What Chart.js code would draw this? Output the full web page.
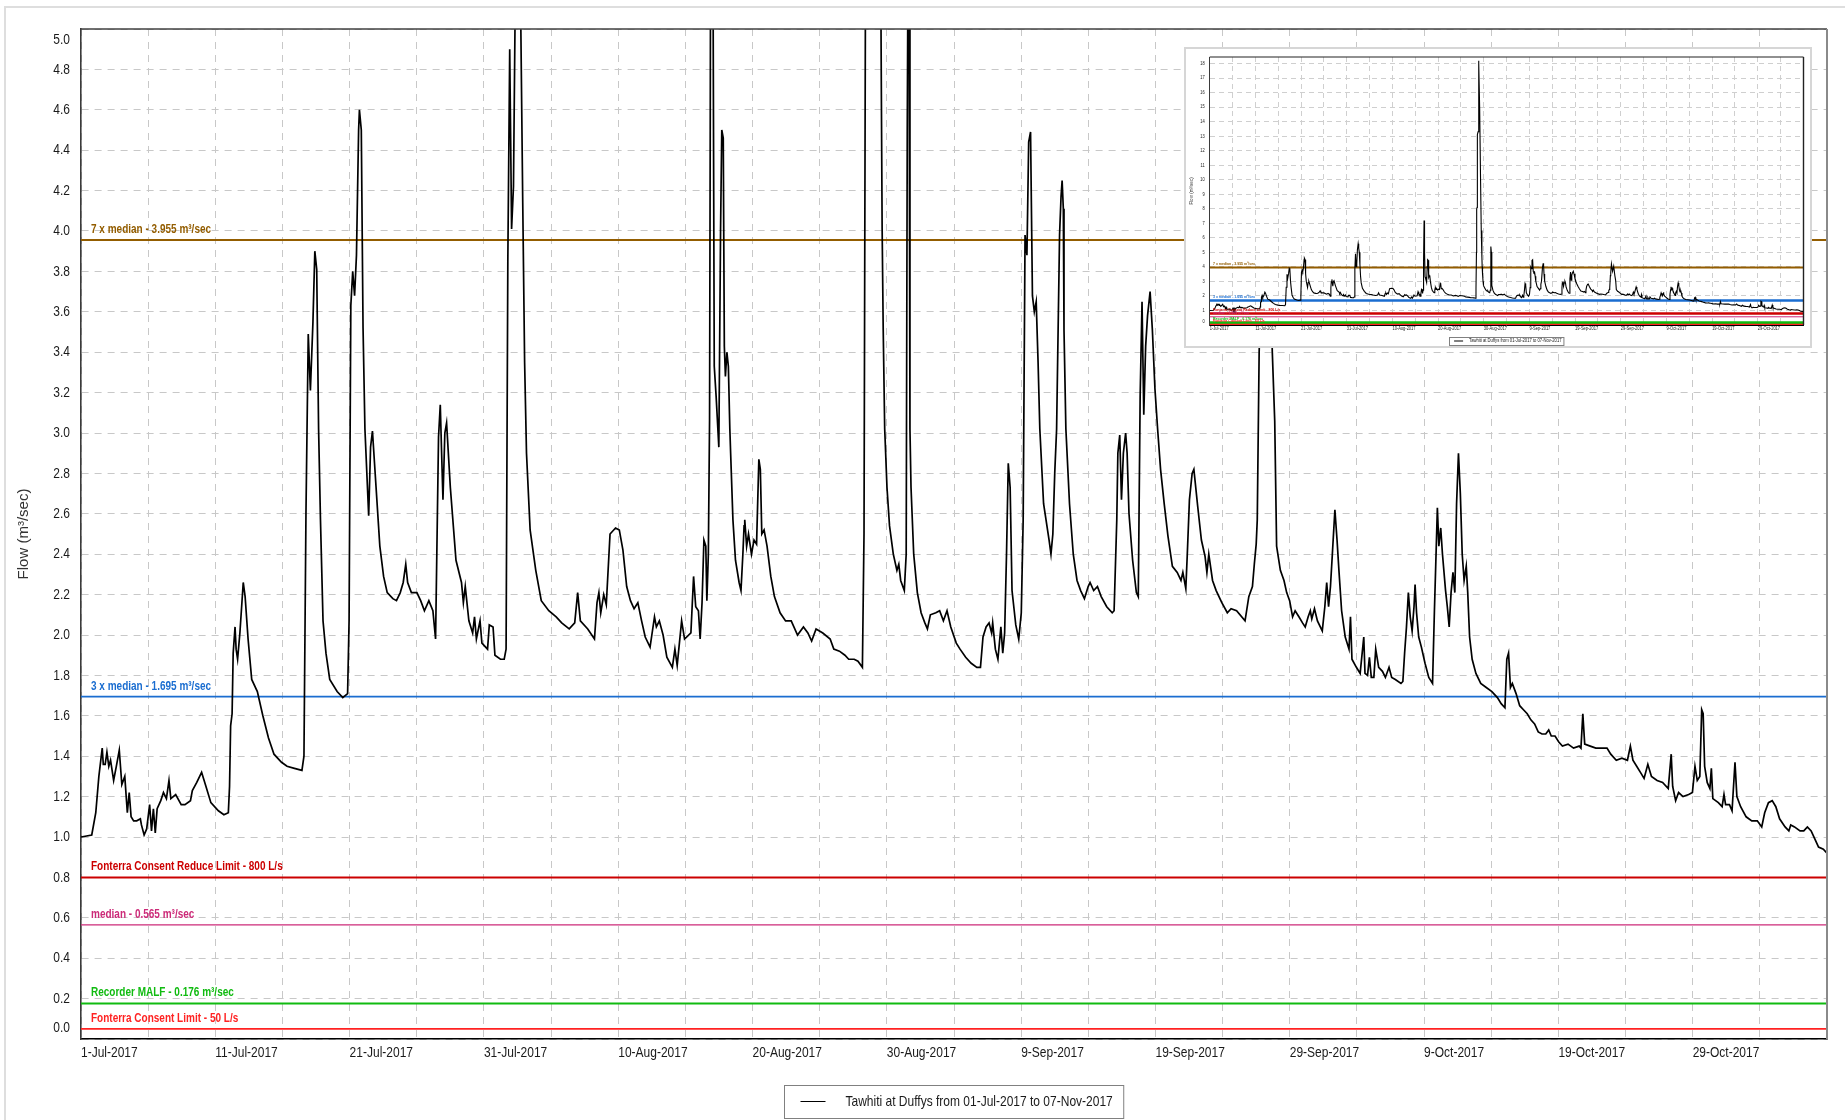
<!DOCTYPE html>
<html>
<head>
<meta charset="utf-8">
<script src="https://cdn.jsdelivr.net/npm/chart.js@4.4.1/dist/chart.umd.min.js"></script>
<style>
  html, body { margin: 0; padding: 0; background: #fff; }
  #wrap { position: relative; width: 1845px; height: 1120px; overflow: hidden; }
  #main { position: absolute; left: 0; top: 0; }
  #insetBox { position: absolute; left: 1184px; top: 47px; width: 624px; height: 297px;
              border: 2px solid #d6d6d6; background: #fff; }
  #inset { display: block; }
</style>
</head>
<body>
<div id="wrap">
  <canvas id="main" width="1845" height="1120"></canvas>
  <div id="insetBox"><canvas id="inset" width="624" height="297"></canvas></div>
</div>
<script>
// axis: days since 1-Jul-2017, ticks every 5 days, labels every 10
const axisDays = 130;
const dateLabels = ['1-Jul-2017', '11-Jul-2017', '21-Jul-2017', '31-Jul-2017', '10-Aug-2017',
  '20-Aug-2017', '30-Aug-2017', '9-Sep-2017', '19-Sep-2017', '29-Sep-2017',
  '9-Oct-2017', '19-Oct-2017', '29-Oct-2017'];
const seriesLabel = 'Tawhiti at Duffys from 01-Jul-2017 to 07-Nov-2017';

// reference lines
const refValues = [3.955, 1.695, 0.8, 0.565, 0.176, 0.05];
const refLabels = ['7 x median - 3.955 m³/sec', '3 x median - 1.695 m³/sec',
  'Fonterra Consent Reduce Limit - 800 L/s', 'median - 0.565 m³/sec',
  'Recorder MALF - 0.176 m³/sec', 'Fonterra Consent Limit - 50 L/s'];
const refColors = ['#935d00', '#1a6dd0', '#cc0000', '#cc2a78', '#10bb10', '#ff2222'];

// flow readings [days since 1-Jul, m3/sec]
const flowJul = [[0, 1.00], [0.8, 1.01], [1.1, 1.12], [1.33, 1.30], [1.58, 1.44], [1.66, 1.36], [1.8, 1.36],
  [1.93, 1.42], [2.07, 1.35], [2.2, 1.38], [2.43, 1.28], [2.63, 1.35], [2.85, 1.43], [3.04, 1.26], [3.26, 1.30],
  [3.45, 1.12], [3.59, 1.22], [3.73, 1.10], [3.92, 1.08], [4.15, 1.08], [4.42, 1.09], [4.5, 1.06], [4.7, 1.01],
  [4.89, 1.04], [5.11, 1.16], [5.25, 1.03], [5.39, 1.14], [5.53, 1.02], [5.67, 1.14], [5.94, 1.18], [6.14, 1.22],
  [6.36, 1.19], [6.55, 1.28], [6.69, 1.19], [7.05, 1.21], [7.46, 1.16], [7.74, 1.16], [8.15, 1.18], [8.29, 1.23],
  [8.62, 1.27], [8.98, 1.32], [9.26, 1.26], [9.67, 1.17], [10.23, 1.13], [10.64, 1.11], [10.97, 1.12],
  [11.06, 1.25], [11.14, 1.55], [11.25, 1.61], [11.33, 1.91], [11.47, 2.04], [11.55, 1.93], [11.66, 1.88],
  [11.83, 2.01], [12.08, 2.26], [12.22, 2.19], [12.44, 1.98], [12.71, 1.78], [13.13, 1.72], [13.54, 1.60],
  [13.96, 1.49], [14.37, 1.41], [14.93, 1.37], [15.34, 1.35], [15.89, 1.34], [16.45, 1.33], [16.6, 1.40],
  [16.75, 2.60], [16.92, 3.49], [17.08, 3.21], [17.27, 3.55], [17.41, 3.90], [17.55, 3.81], [17.69, 3.02],
  [17.83, 2.57], [18.02, 2.07], [18.24, 1.91], [18.52, 1.78], [19.07, 1.72], [19.49, 1.69], [19.85, 1.71],
  [19.96, 2.07], [20.09, 3.63], [20.23, 3.80], [20.37, 3.68], [20.51, 3.88], [20.67, 4.50], [20.73, 4.60],
  [20.87, 4.50], [21.0, 3.52], [21.14, 3.02], [21.42, 2.59], [21.56, 2.93], [21.7, 3.01], [21.97, 2.73],
  [22.25, 2.44], [22.53, 2.29], [22.8, 2.21], [23.22, 2.18], [23.49, 2.17], [23.77, 2.21], [23.99, 2.26],
  [24.18, 2.35], [24.32, 2.26], [24.6, 2.21], [25.01, 2.21], [25.29, 2.17], [25.57, 2.12], [25.9, 2.17],
  [26.2, 2.12], [26.4, 1.98], [26.53, 2.57], [26.62, 2.98], [26.75, 3.14], [26.85, 2.90], [26.95, 2.67],
  [27.09, 3.00], [27.22, 3.05], [27.5, 2.73], [27.92, 2.37], [28.33, 2.26], [28.47, 2.16], [28.61, 2.24],
  [28.88, 2.07], [29.16, 2.01], [29.3, 2.09], [29.44, 1.98], [29.71, 2.07], [29.85, 1.96], [30.27, 1.93],
  [30.4, 2.05], [30.68, 2.04], [30.82, 1.90]];

const flowAug = [[31.23, 1.88], [31.51, 1.88], [31.65, 1.93], [31.78, 3.85], [31.92, 4.90], [32.06, 4.01],
  [32.2, 4.22], [32.34, 5.2], [32.5, 5.6], [32.62, 5.3], [32.75, 5.0], [32.89, 4.14], [33.03, 3.35], [33.17, 2.90],
  [33.44, 2.52], [33.86, 2.32], [34.27, 2.17], [34.83, 2.12], [35.38, 2.09], [35.79, 2.06], [36.35, 2.03],
  [36.76, 2.06], [36.98, 2.21], [37.18, 2.07], [37.73, 2.03], [38.23, 1.98], [38.42, 2.16], [38.56, 2.21],
  [38.7, 2.11], [38.92, 2.20], [39.11, 2.15], [39.39, 2.50], [39.8, 2.53], [40.08, 2.52], [40.35, 2.42],
  [40.63, 2.24], [40.91, 2.17], [41.18, 2.13], [41.46, 2.16], [41.74, 2.07], [42.01, 1.99], [42.37, 1.94],
  [42.7, 2.09], [42.84, 2.04], [43.06, 2.07], [43.34, 2.00], [43.62, 1.89], [44.03, 1.84], [44.22, 1.93],
  [44.39, 1.85], [44.72, 2.07], [44.94, 1.98], [45.41, 2.01], [45.61, 2.29], [45.77, 2.14], [45.97, 2.12],
  [46.1, 1.98], [46.24, 2.16], [46.38, 2.47], [46.52, 2.44], [46.6, 2.17], [46.71, 2.40], [46.8, 3.06],
  [46.85, 4.5], [46.93, 7.2], [47.0, 5.8], [47.07, 5.0], [47.15, 3.33], [47.29, 3.18], [47.49, 2.93],
  [47.62, 4.01], [47.71, 4.50], [47.82, 4.46], [47.9, 3.43], [47.98, 3.28], [48.09, 3.40], [48.2, 3.33],
  [48.31, 3.02], [48.37, 2.90], [48.54, 2.57], [48.73, 2.37], [49.0, 2.26], [49.14, 2.22], [49.28, 2.40],
  [49.37, 2.54], [49.42, 2.57], [49.56, 2.44], [49.7, 2.50], [49.92, 2.40], [50.11, 2.47], [50.3, 2.45],
  [50.47, 2.87], [50.58, 2.82], [50.69, 2.50], [50.86, 2.52], [51.08, 2.44], [51.36, 2.29], [51.63, 2.19],
  [52.05, 2.11], [52.46, 2.07], [52.88, 2.07], [53.35, 2.00], [53.79, 2.04], [54.12, 2.01], [54.4, 1.97],
  [54.73, 2.03], [55.23, 2.01], [55.78, 1.98], [56.05, 1.93], [56.47, 1.92], [56.88, 1.90], [57.16, 1.88],
  [57.57, 1.88], [57.85, 1.87], [58.18, 1.84], [58.3, 2.5], [58.4, 5.0], [58.45, 8.0], [58.55, 8.1],
  [58.6, 13.1], [58.75, 13.3], [58.85, 18.2], [58.95, 18.0], [59.1, 15.0], [59.3, 10.0], [59.45, 6.5],
  [59.59, 4.70], [59.65, 4.01], [59.73, 3.51], [59.84, 3.02], [59.87, 2.97], [60.01, 2.73], [60.2, 2.54],
  [60.48, 2.40], [60.75, 2.32], [60.89, 2.35], [61.03, 2.27], [61.3, 2.22], [61.44, 2.40], [61.52, 4.5],
  [61.58, 5.4], [61.66, 5.0], [61.72, 3.02], [61.8, 2.73]];

const flowSep = [[62.0, 2.40], [62.27, 2.21], [62.55, 2.11], [62.83, 2.06], [63.02, 2.03], [63.24, 2.10],
  [63.65, 2.11], [63.93, 2.12], [64.21, 2.07], [64.48, 2.12], [64.76, 2.04], [65.17, 1.96], [65.45, 1.93],
  [65.87, 1.89], [66.28, 1.86], [66.7, 1.84], [66.97, 1.84], [67.16, 1.99], [67.39, 2.04], [67.61, 2.06],
  [67.8, 2.01], [67.88, 2.06], [68.08, 1.93], [68.27, 1.88], [68.49, 2.04], [68.63, 1.91], [68.77, 2.01],
  [68.91, 2.40], [69.04, 2.85], [69.18, 2.73], [69.32, 2.22], [69.6, 2.05], [69.82, 1.98], [70.01, 2.11],
  [70.15, 2.57], [70.29, 3.98], [70.43, 3.88], [70.56, 4.44], [70.7, 4.49], [70.84, 3.68], [70.98, 3.60],
  [71.12, 3.65], [71.26, 3.35], [71.39, 3.02], [71.67, 2.65], [72.08, 2.47], [72.22, 2.40], [72.36, 2.50],
  [72.5, 2.80], [72.64, 3.02], [72.86, 3.98], [72.97, 4.17], [73.05, 4.25], [73.14, 4.11], [73.19, 3.51],
  [73.33, 3.02], [73.6, 2.65], [73.88, 2.40], [74.16, 2.27], [74.43, 2.22], [74.71, 2.18], [74.99, 2.24],
  [75.13, 2.26], [75.4, 2.22], [75.68, 2.24], [75.96, 2.19], [76.37, 2.14], [76.78, 2.11], [76.92, 2.12],
  [77.12, 2.57], [77.2, 2.90], [77.34, 2.99], [77.47, 2.67], [77.61, 2.90], [77.78, 3.00], [77.89, 2.90],
  [78.03, 2.60], [78.3, 2.37], [78.58, 2.21], [78.72, 2.19], [78.86, 3.18], [79.0, 3.65], [79.13, 3.09],
  [79.27, 3.43], [79.41, 3.58], [79.6, 3.70], [79.77, 3.51], [79.96, 3.22], [80.16, 3.02], [80.38, 2.82],
  [80.65, 2.65], [80.93, 2.49], [81.26, 2.34], [81.62, 2.31], [81.9, 2.27], [82.04, 2.31], [82.26, 2.23],
  [82.37, 2.40], [82.53, 2.67], [82.73, 2.80], [82.86, 2.82], [83.14, 2.64], [83.42, 2.47], [83.69, 2.39],
  [83.83, 2.31], [83.97, 2.40], [84.25, 2.27], [84.52, 2.22], [84.94, 2.16], [85.35, 2.11], [85.63, 2.13],
  [86.04, 2.12], [86.67, 2.07], [86.95, 2.19], [87.22, 2.24], [87.36, 2.35], [87.5, 2.45], [87.58, 2.57],
  [87.72, 3.40], [87.8, 3.60], [87.95, 4.20], [88.2, 3.70], [88.45, 4.05], [88.7, 3.40], [88.88, 3.06],
  [89.02, 2.44], [89.3, 2.32], [89.57, 2.27], [89.77, 2.21], [89.99, 2.17], [90.21, 2.09], [90.4, 2.12],
  [90.68, 2.09], [90.95, 2.06], [91.15, 2.04], [91.37, 2.09], [91.53, 2.12], [91.64, 2.08], [91.84, 2.13]];

const flowOct = [[92.06, 2.07], [92.42, 2.02], [92.61, 2.14], [92.75, 2.26], [92.89, 2.14], [93.03, 2.24],
  [93.17, 2.40], [93.36, 2.62], [93.52, 2.47], [93.66, 2.32], [93.86, 2.12], [94.13, 1.99], [94.41, 1.93],
  [94.52, 2.09], [94.63, 1.88], [94.96, 1.84], [95.24, 1.81], [95.51, 1.99], [95.6, 1.81], [95.79, 1.80],
  [95.93, 1.89], [96.07, 1.79], [96.26, 1.79], [96.4, 1.93], [96.62, 1.84], [96.9, 1.82], [97.12, 1.79],
  [97.39, 1.84], [97.59, 1.79], [97.86, 1.78], [98.28, 1.76], [98.42, 1.77], [98.55, 1.91], [98.69, 2.04],
  [98.83, 2.21], [98.97, 2.09], [99.11, 2.02], [99.25, 2.14], [99.33, 2.25], [99.44, 2.11], [99.6, 1.99],
  [99.8, 1.94], [100.07, 1.86], [100.35, 1.79], [100.63, 1.76], [100.77, 2.12], [100.9, 2.42], [100.99, 2.63],
  [101.1, 2.44], [101.24, 2.53], [101.37, 2.40], [101.6, 2.22], [101.73, 2.14], [101.87, 2.04], [102.01, 2.21],
  [102.15, 2.31], [102.29, 2.21], [102.42, 2.65], [102.56, 2.90], [102.7, 2.70], [102.84, 2.40], [102.98, 2.27],
  [103.14, 2.34], [103.25, 2.21], [103.39, 1.99], [103.58, 1.88], [103.86, 1.81], [104.22, 1.76], [104.63, 1.74],
  [105.05, 1.72], [105.46, 1.69], [105.74, 1.66], [106.02, 1.64], [106.16, 1.88], [106.29, 1.91], [106.43, 1.74],
  [106.57, 1.76], [106.85, 1.71], [107.12, 1.65], [107.4, 1.63], [107.68, 1.61], [107.95, 1.58], [108.23, 1.56],
  [108.5, 1.52], [108.78, 1.51], [109.06, 1.51], [109.28, 1.53], [109.47, 1.50], [109.75, 1.50], [110.03, 1.47],
  [110.3, 1.45], [110.72, 1.46], [111.13, 1.44], [111.55, 1.45], [111.68, 1.44], [111.82, 1.61], [111.96, 1.46],
  [112.37, 1.45], [112.79, 1.44], [113.2, 1.44], [113.62, 1.44], [113.9, 1.41], [114.31, 1.38], [114.73, 1.39],
  [115.14, 1.38], [115.36, 1.45], [115.55, 1.38], [115.83, 1.35], [116.11, 1.32], [116.38, 1.29], [116.66, 1.36],
  [116.93, 1.30], [117.35, 1.28], [117.76, 1.27], [118.18, 1.24], [118.4, 1.41], [118.51, 1.25], [118.73, 1.18],
  [118.95, 1.22], [119.28, 1.20], [119.7, 1.21], [119.98, 1.22], [120.17, 1.35], [120.34, 1.28], [120.53, 1.30],
  [120.67, 1.63], [120.78, 1.61], [120.89, 1.35], [121.08, 1.27], [121.28, 1.24], [121.39, 1.34], [121.5, 1.19],
  [121.91, 1.17], [122.19, 1.15], [122.33, 1.21], [122.45, 1.16], [122.74, 1.16], [122.93, 1.13]];

const flowNov = [[123.15, 1.37], [123.29, 1.20], [123.57, 1.15], [123.98, 1.10], [124.4, 1.08], [124.81, 1.08],
  [125.14, 1.05], [125.36, 1.12], [125.64, 1.17], [125.92, 1.18], [126.19, 1.15], [126.47, 1.09], [126.88, 1.05],
  [127.16, 1.03], [127.3, 1.06], [127.58, 1.05], [127.99, 1.03], [128.27, 1.03], [128.54, 1.05], [128.82, 1.03],
  [129.1, 0.99], [129.37, 0.95], [129.73, 0.94], [130.0, 0.92]];

const flowSeries = [...flowJul, ...flowAug, ...flowSep, ...flowOct, ...flowNov];

const SANS = '"Liberation Sans", Arial, sans-serif';
const NARROW_X = 0.8;   // no narrow font installed, so squeeze Liberation Sans sideways

// look of the big chart and of the small overview copy
const mainLook = {
  pad: { left: 0, top: 29, right: 18, bottom: 41 }, yWidth: 81, xHeight: 40,
  yMax: 5, yStep: 0.2, yFormat: v => v.toFixed(1), edgeShift: { '5.0': 11, '0.0': -11 },
  tickFont: 15, titleFont: 15, titlePad: 15, yTickPad: 11, xTickPad: 5,
  gridColor: '#c8c8c8', dash: [7, 6],
  leftWidth: 1.6, bottomWidth: 1.6, topWidth: 1.6, topColor: '#404040', rightWidth: 2, rightColor: '#8a8a8a',
  seriesWidth: 1.7, refWidths: [2, 1.6, 2, 1.4, 2, 1.6],
  refFont: 12.5, refDx: 10, refDy: 7,
  legendTop: 1085, legendH: 33, legendFont: 15, legendExtra: 72, legendLine: [16, 41], legendText: 61,
  frame: true
};
const insetLook = {
  pad: { left: 0, top: 5, right: 6.5, bottom: 11 }, yWidth: 23.7, xHeight: 10,
  yMax: 18.45, yStep: 1, yFormat: v => Number.isInteger(v) ? String(v) : '', edgeShift: { '0': -3.5 },
  tickFont: 5, titleFont: 4.5, titlePad: 2.8, yTickPad: 5, xTickPad: 0.5,
  gridColor: '#cfcfcf', dash: [5, 4],
  leftWidth: 1, bottomWidth: 1, topWidth: 1.2, topColor: '#222', rightWidth: 1.4, rightColor: '#222',
  seriesWidth: 1.1, refWidths: [2, 2.5, 2.5, 1, 2.5, 2.5],
  refFont: 4.4, refDx: 3.3, refDy: 2.3,
  legendTop: 288, legendH: 8, legendFont: 5.2, legendExtra: 22, legendLine: [4.6, 13.6], legendText: 19.6,
  frame: false
};

// draw text squeezed horizontally around its anchor
function narrowText(ctx, text, x, y, align, baseline) {
  ctx.save();
  ctx.translate(x, y);
  ctx.scale(NARROW_X, 1);
  ctx.textAlign = align;
  ctx.textBaseline = baseline;
  ctx.fillText(text, 0, 0);
  ctx.restore();
}

function drawTickLabels(ctx, scale) {
  scale.getLabelItems().forEach(it => {
    if (!it.label) return;
    const o = it.options;
    ctx.save();
    ctx.font = it.font.string;
    ctx.fillStyle = '#1a1a1a';
    narrowText(ctx, it.label, o.translation[0], o.translation[1] + it.textOffset, o.textAlign, o.textBaseline);
    ctx.restore();
  });
}

function buildChart(canvas, look) {
  const datasets = [{
    label: seriesLabel,
    data: flowSeries.map(p => ({ x: p[0], y: p[1] })),
    borderColor: '#000', borderWidth: look.seriesWidth,
    pointRadius: 0, tension: 0, order: 0
  }];
  refValues.forEach((v, i) => datasets.push({
    label: refLabels[i],
    data: [{ x: 0, y: v }, { x: axisDays, y: v }],
    borderColor: refColors[i], borderWidth: look.refWidths[i],
    pointRadius: 0, order: 1
  }));

  const decor = {
    id: 'decor',
    beforeDraw(chart) {
      const ctx = chart.ctx;
      ctx.save();
      ctx.fillStyle = '#fff';
      ctx.fillRect(0, 0, chart.width, chart.height);
      if (look.frame) {
        ctx.fillStyle = '#dedede';
        ctx.fillRect(4, 6, chart.width, 2);
        ctx.fillRect(4, 6, 2, chart.height);
      }
      ctx.restore();
      // end labels sit inside the axis like the original
      const items = chart.scales.y.getLabelItems();
      if (!items._shifted) {
        items.forEach(it => {
          const s = look.edgeShift[it.label];
          if (s) it.options.translation[1] += s;
        });
        items._shifted = true;
      }
    },
    afterDatasetsDraw(chart) {
      const { ctx, chartArea: a, scales: { y } } = chart;
      ctx.save();
      ctx.lineWidth = look.topWidth;
      ctx.strokeStyle = look.topColor;
      ctx.beginPath(); ctx.moveTo(a.left, a.top); ctx.lineTo(a.right, a.top); ctx.stroke();
      ctx.lineWidth = look.rightWidth;
      ctx.strokeStyle = look.rightColor;
      ctx.beginPath(); ctx.moveTo(a.right, a.top); ctx.lineTo(a.right, a.bottom); ctx.stroke();

      ctx.font = `bold ${look.refFont}px ${SANS}`;
      refValues.forEach((v, i) => {
        ctx.fillStyle = refColors[i];
        narrowText(ctx, refLabels[i], a.left + look.refDx, y.getPixelForValue(v) - look.refDy, 'left', 'alphabetic');
      });
      ctx.restore();
    },
    afterDraw(chart) {
      const { ctx, chartArea: a } = chart;
      drawTickLabels(ctx, chart.scales.x);
      drawTickLabels(ctx, chart.scales.y);

      ctx.save();
      ctx.font = `${look.legendFont}px ${SANS}`;
      const tw = ctx.measureText(seriesLabel).width * NARROW_X;
      const bw = tw + look.legendExtra;
      const bx = Math.round((a.left + a.right) / 2 - bw / 2) + 0.5;
      const by = look.legendTop + 0.5;
      const midY = look.legendTop + look.legendH / 2;
      ctx.strokeStyle = '#808080';
      ctx.lineWidth = 1;
      ctx.strokeRect(bx, by, bw, look.legendH);
      ctx.strokeStyle = '#000';
      ctx.beginPath();
      ctx.moveTo(bx + look.legendLine[0], midY);
      ctx.lineTo(bx + look.legendLine[1], midY);
      ctx.stroke();
      ctx.fillStyle = '#1a1a1a';
      narrowText(ctx, seriesLabel, bx + look.legendText, midY, 'left', 'middle');
      ctx.restore();
    }
  };

  return new Chart(canvas, {
    type: 'line',
    data: { datasets },
    options: {
      responsive: false,
      animation: false,
      devicePixelRatio: 1,
      layout: { padding: look.pad },
      plugins: { legend: { display: false }, tooltip: { enabled: false } },
      scales: {
        x: {
          type: 'linear', min: 0, max: axisDays,
          afterFit: s => { s.height = look.xHeight; },
          ticks: {
            stepSize: 5, autoSkip: false, maxRotation: 0, minRotation: 0, align: 'start',
            padding: look.xTickPad, color: 'rgba(0,0,0,0)',
            font: { family: SANS, size: look.tickFont },
            callback: v => (v % 10 === 0 && dateLabels[v / 10]) ? dateLabels[v / 10] : ''
          },
          grid: { color: look.gridColor, lineWidth: 1, drawTicks: false },
          border: { display: true, color: '#000', width: look.bottomWidth, dash: look.dash }
        },
        y: {
          type: 'linear', min: 0, max: look.yMax,
          afterFit: s => { s.width = look.yWidth; },
          ticks: {
            stepSize: look.yStep, includeBounds: false, padding: look.yTickPad, color: 'rgba(0,0,0,0)',
            font: { family: SANS, size: look.tickFont },
            callback: v => look.yFormat(v)
          },
          grid: { color: look.gridColor, lineWidth: 1, drawTicks: false },
          border: { display: true, color: '#3a3a3a', width: look.leftWidth, dash: look.dash },
          title: {
            display: true, text: 'Flow (m³/sec)', color: '#333',
            font: { family: SANS, size: look.titleFont },
            padding: { top: look.titlePad, bottom: 0 }
          }
        }
      }
    },
    plugins: [decor]
  });
}

buildChart(document.getElementById('main'), mainLook);
buildChart(document.getElementById('inset'), insetLook);
</script>
</body>
</html>
